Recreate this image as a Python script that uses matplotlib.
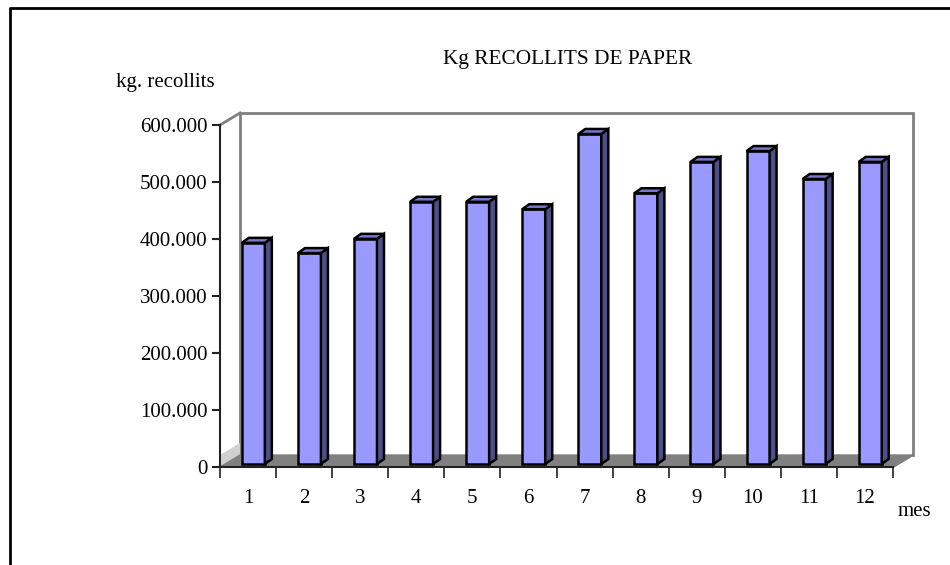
import matplotlib
matplotlib.use('Agg')
import matplotlib.pyplot as plt
from matplotlib.patches import Polygon, Rectangle
from matplotlib.ticker import FuncFormatter, FixedLocator

# data (kg per month)
mesos = ['1', '2', '3', '4', '5', '6', '7', '8', '9', '10', '11', '12']
kg = [388000, 370000, 395000, 460000, 460000, 447000,
      579000, 475000, 530000, 549000, 500000, 530000]

plt.rcParams['font.family'] = ['Liberation Serif', 'DejaVu Serif']

W, H = 950, 565
fig = plt.figure(figsize=(W / 100, H / 100), dpi=100)

# front frame of the 3d box, in pixels
x0p, x1p, y0p, y1p = 220, 893, 467, 125
ax = fig.add_axes([x0p / W, 1 - y0p / H, (x1p - x0p) / W, (y0p - y1p) / H])
ymax = 600000
ax.set_xlim(0, len(mesos))
ax.set_ylim(0, ymax)

# depth of the box (pixels) -> data units
px_x = len(mesos) / (x1p - x0p)
px_y = ymax / (y0p - y1p)
DX, DY = 20 * px_x, 12 * px_y

grey = '#808080'
n = len(mesos)

# floor
floor = Polygon([(0, 0), (n, 0), (n + DX, DY), (DX, DY)], closed=True,
                facecolor=grey, edgecolor=grey, lw=1, clip_on=False, zorder=1)
ax.add_patch(floor)
# small light part on the left wall
lw_h = 12 * px_y
ax.add_patch(Polygon([(0, 0), (DX, DY), (DX, DY + lw_h), (0, lw_h)], closed=True,
                     facecolor='#d0d0d0', edgecolor='none', clip_on=False, zorder=0.9))

# back wall outline
ax.plot([DX, DX, n + DX, n + DX], [DY, ymax + DY, ymax + DY, DY],
        color=grey, lw=2, clip_on=False, zorder=0.8, solid_joinstyle='miter')
ax.plot([0, DX], [ymax, ymax + DY], color=grey, lw=2, clip_on=False, zorder=0.8)
ax.plot([n, n + DX], [0, DY], color=grey, lw=1.5, clip_on=False, zorder=1.1)

# bars
f = 0.25
bw = 0.41
sx, sy = 7 * px_x, 5 * px_y
for i, v in enumerate(kg):
    bx = i + 0.30 + f * DX
    by = f * DY
    ax.add_patch(Rectangle((bx, by), bw, v, facecolor='#9999ff', edgecolor='black',
                           lw=1.8, clip_on=False, zorder=3))
    ax.add_patch(Polygon([(bx + bw, by), (bx + bw + sx, by + sy),
                          (bx + bw + sx, by + v + sy), (bx + bw, by + v)], closed=True,
                         facecolor='#4f4f88', edgecolor='black', lw=1.8,
                         clip_on=False, zorder=3))
    ax.add_patch(Polygon([(bx, by + v), (bx + bw, by + v),
                          (bx + bw + sx, by + v + sy), (bx + sx, by + v + sy)], closed=True,
                         facecolor='#7777cc', edgecolor='black', lw=1.8,
                         clip_on=False, zorder=3))

# axes styling
for s in ['top', 'right']:
    ax.spines[s].set_visible(False)
ax.spines['left'].set_color('#222222')
ax.spines['bottom'].set_color('#222222')
ax.spines['left'].set_linewidth(1.5)
ax.spines['bottom'].set_linewidth(1.5)
ax.patch.set_alpha(0)

ax.set_yticks(range(0, ymax + 1, 100000))
ax.yaxis.set_major_formatter(FuncFormatter(
    lambda v, p: '0' if v == 0 else '{:,}'.format(int(v)).replace(',', '.')))
ax.tick_params(axis='y', length=6, width=1.5, color='#222222', labelsize=15, pad=3)

ax.xaxis.set_major_locator(FixedLocator(range(0, n + 1)))
ax.xaxis.set_major_formatter(FuncFormatter(lambda v, p: ''))
ax.xaxis.set_minor_locator(FixedLocator([i + 0.5 for i in range(n)]))
ax.set_xticklabels(mesos, minor=True)
ax.tick_params(axis='x', which='major', length=8, width=1.2, color='#222222')
ax.tick_params(axis='x', which='minor', length=0, labelsize=15, pad=16)

fig.text(568 / W, 1 - 60 / H, 'Kg RECOLLITS DE PAPER', ha='center', va='center', fontsize=15.3)
fig.text(116 / W, 1 - 82 / H, 'kg. recollits', ha='left', va='center', fontsize=15)
fig.text(898 / W, 1 - 511 / H, 'mes', ha='left', va='center', fontsize=15)

# outer border of the chart area
fig.add_artist(plt.Line2D([10 / W, 10 / W, 1], [0, 1 - 8 / H, 1 - 8 / H],
                          color='black', lw=2, transform=fig.transFigure))

fig.savefig('out.png', dpi=100)
